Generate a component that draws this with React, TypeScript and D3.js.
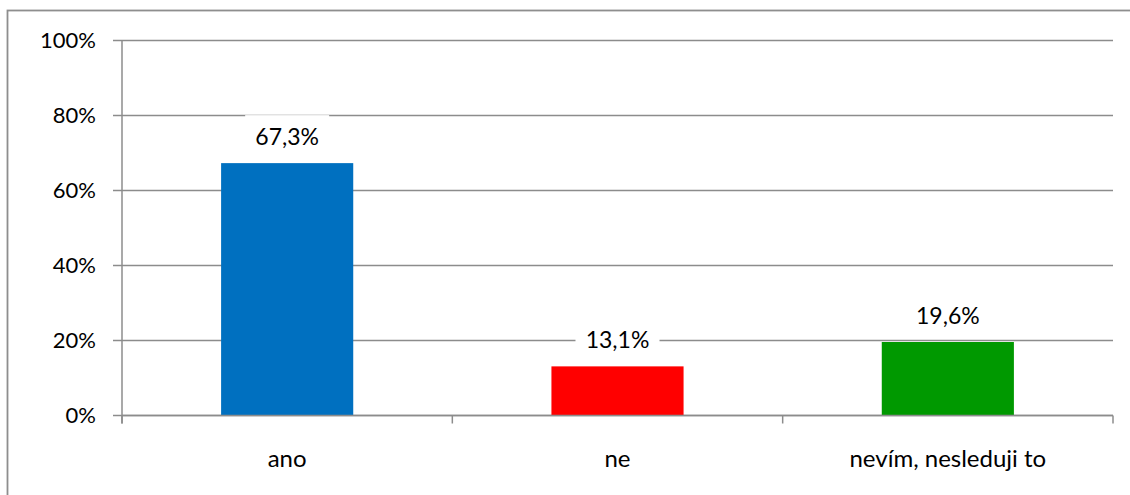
import React from "react";
import * as d3 from "d3";

const categories = ["ano", "ne", "nevím, nesleduji to"];
const values = [67.3, 13.1, 19.6];
const barColors = ["#0070C0", "#FF0000", "#009900"];
const yTicks = [0, 20, 40, 60, 80, 100];

const W = 1130;
const H = 495;
const plot = { left: 122, right: 1113, top: 40.5, bottom: 415.5 };
const FONT = "Lato, 'Open Sans', sans-serif";
const AXIS = "#8c8c8c";

export default function App() {
  const x = d3
    .scaleBand<string>()
    .domain(categories)
    .range([plot.left, plot.right])
    .paddingInner(0.6)
    .paddingOuter(0.3);
  const y = d3.scaleLinear().domain([0, 100]).range([plot.bottom, plot.top]);
  const fmt = (v: number) => v.toFixed(1).replace(".", ",") + "%";

  // category boundaries for the x-axis tick marks
  const boundaries = d3
    .range(categories.length + 1)
    .map((i) => plot.left + i * ((plot.right - plot.left) / categories.length));

  return (
    <svg
      width={W}
      height={H}
      style={{ position: "absolute", left: 0, top: 0, background: "#fff" }}
      fontFamily={FONT}
    >
      {/* chart frame */}
      <rect x={7.5} y={10.5} width={W + 20} height={H + 20} fill="#fff" stroke="#8e8e8e" strokeWidth={1.8} />

      {/* horizontal gridlines + y ticks */}
      {yTicks.map((t) => (
        <g key={t}>
          <line x1={plot.left - 9} x2={plot.right} y1={y(t)} y2={y(t)} stroke={AXIS} strokeWidth={1.5} />
          <text x={96} y={y(t)} dy="0.36em" textAnchor="end" fontSize={22} fill="#000">
            {t}%
          </text>
        </g>
      ))}

      {/* y axis */}
      <line x1={plot.left} x2={plot.left} y1={plot.top} y2={plot.bottom + 8} stroke={AXIS} strokeWidth={1.5} />

      {/* x tick marks */}
      {boundaries.map((bx, i) => (
        <line key={i} x1={bx} x2={bx} y1={plot.bottom} y2={plot.bottom + 8} stroke={AXIS} strokeWidth={1.5} />
      ))}

      {/* bars */}
      {categories.map((c, i) => (
        <rect
          key={c}
          x={x(c)}
          y={y(values[i])}
          width={x.bandwidth()}
          height={plot.bottom - y(values[i])}
          fill={barColors[i]}
        />
      ))}

      {/* x axis line */}
      <line x1={plot.left} x2={plot.right} y1={plot.bottom} y2={plot.bottom} stroke={AXIS} strokeWidth={1.5} />

      {/* data labels */}
      {categories.map((c, i) => {
        const cx = (x(c) as number) + x.bandwidth() / 2;
        const cy = y(values[i]) - 26.5;
        return (
          <g key={c}>
            <rect x={cx - 42} y={cy - 21.5} width={84} height={43} fill="#fff" />
            <text x={cx} y={cy} dy="0.36em" textAnchor="middle" fontSize={23} fill="#000">
              {fmt(values[i])}
            </text>
          </g>
        );
      })}

      {/* category labels */}
      {categories.map((c) => (
        <text
          key={c}
          x={(x(c) as number) + x.bandwidth() / 2}
          y={plot.bottom + 43}
          dy="0.36em"
          textAnchor="middle"
          fontSize={24}
          fill="#000"
        >
          {c}
        </text>
      ))}
    </svg>
  );
}
